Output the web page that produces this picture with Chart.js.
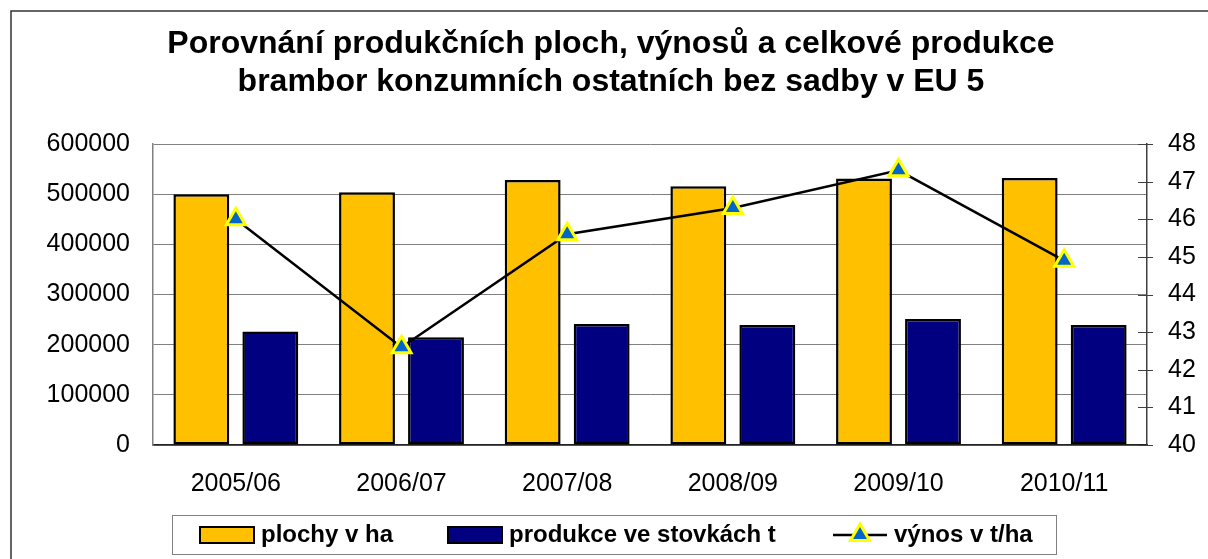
<!DOCTYPE html>
<html lang="cs">
<head>
<meta charset="utf-8">
<title>Porovnání produkčních ploch, výnosů a celkové produkce</title>
<script src="https://cdn.jsdelivr.net/npm/chart.js@4.4.1/dist/chart.umd.min.js"></script>
<style>
    html, body { margin: 0; padding: 0; background: #fff; }
    #graf { display: block; }
</style>
</head>
<body>
<canvas id="graf" width="1208" height="559"></canvas>
<script>
// ==================== DATA ====================
const roky = ['2005/06', '2006/07', '2007/08', '2008/09', '2009/10', '2010/11'];
const plochy = [500000, 504000, 528000, 516000, 531000, 532000];       // plochy v ha
const produkce = [226000, 215000, 241000, 239000, 251000, 239000];     // produkce ve stovkách t
const vynos = [46.0, 42.6, 45.6, 46.3, 47.3, 44.9];                    // výnos v t/ha
const titulek = [
    'Porovnání produkčních ploch, výnosů a celkové produkce',
    'brambor konzumních ostatních bez sadby v EU 5'
];
const legendaTexty = ['plochy v ha', 'produkce ve stovkách t', 'výnos v t/ha'];

const FONT = '"Liberation Sans", Arial, sans-serif';
const ZLUTA = '#FFC000';
const MODRA = '#000080';

// ==================== PLUGINY ====================
// rámeček grafu (vidět je jen levá a horní hrana)
const ramecek = {
    id: 'ramecek',
    beforeDraw(chart) {
        const ctx = chart.ctx;
        ctx.save();
        ctx.fillStyle = '#fff';
        ctx.fillRect(0, 0, chart.width, chart.height);
        ctx.strokeStyle = '#333';
        ctx.lineWidth = 1.5;
        ctx.strokeRect(11, 11, chart.width + 50, chart.height + 50);
        ctx.restore();
    }
};

// značky na pravé ose přes osu (dovnitř i ven)
const znackyOsy = {
    id: 'znackyOsy',
    afterDatasetsDraw(chart) {
        const osa = chart.scales.y2;
        const ctx = chart.ctx;
        ctx.save();
        ctx.strokeStyle = '#404040';
        ctx.lineWidth = 1;
        osa.ticks.forEach(t => {
            const py = Math.round(osa.getPixelForValue(t.value)) + 0.5;
            ctx.beginPath();
            ctx.moveTo(osa.left - 9, py);
            ctx.lineTo(osa.left + 6, py);
            ctx.stroke();
        });
        ctx.restore();
    }
};

// legenda v rámečku pod grafem
const legenda = {
    id: 'legenda',
    afterDraw(chart) {
        const ctx = chart.ctx;
        const ds = chart.data.datasets;
        const cy = 535;
        ctx.save();
        ctx.strokeStyle = '#808080';
        ctx.lineWidth = 1;
        ctx.strokeRect(172.5, 515.5, 884, 39);

        ctx.font = 'bold 24px ' + FONT;
        ctx.textBaseline = 'middle';
        ctx.textAlign = 'left';

        const polozky = [
            { x: 200, ds: ds[0], text: legendaTexty[0] },
            { x: 448, ds: ds[1], text: legendaTexty[1] },
            { x: 833, ds: ds[2], text: legendaTexty[2] }
        ];
        polozky.forEach(p => {
            if (p.ds.type === 'line') {
                ctx.strokeStyle = p.ds.borderColor;
                ctx.lineWidth = 2.5;
                ctx.beginPath();
                ctx.moveTo(p.x, cy);
                ctx.lineTo(p.x + 54, cy);
                ctx.stroke();
                ctx.fillStyle = p.ds.pointBackgroundColor;
                ctx.strokeStyle = p.ds.pointBorderColor;
                ctx.lineWidth = p.ds.pointBorderWidth;
                Chart.helpers.drawPoint(ctx, { pointStyle: 'triangle', radius: p.ds.pointRadius, borderWidth: p.ds.pointBorderWidth }, p.x + 27, cy);
            } else {
                ctx.fillStyle = p.ds.backgroundColor;
                ctx.fillRect(p.x, cy - 8, 54, 16);
                ctx.strokeStyle = '#000';
                ctx.lineWidth = 2;
                ctx.strokeRect(p.x, cy - 8, 54, 16);
            }
            ctx.fillStyle = '#000';
            ctx.fillText(p.text, p.x + 61, cy);
        });
        ctx.restore();
    }
};

// ==================== GRAF ====================
const ctx = document.getElementById('graf').getContext('2d');
const graf = new Chart(ctx, {
    type: 'bar',
    data: {
        labels: roky,
        datasets: [
            {
                label: legendaTexty[0],
                data: plochy,
                backgroundColor: ZLUTA,
                borderColor: '#000',
                borderWidth: 2.5,
                borderSkipped: false,
                categoryPercentage: 0.833,
                barPercentage: 0.81,
                yAxisID: 'y',
                order: 1
            },
            {
                label: legendaTexty[1],
                data: produkce,
                backgroundColor: MODRA,
                borderColor: '#000',
                borderWidth: 2.5,
                borderSkipped: false,
                categoryPercentage: 0.833,
                barPercentage: 0.81,
                yAxisID: 'y',
                order: 1
            },
            {
                type: 'line',
                label: legendaTexty[2],
                data: vynos,
                borderColor: '#000',
                borderWidth: 2.5,
                tension: 0,
                pointStyle: 'triangle',
                pointRadius: 11,
                pointBackgroundColor: '#0066CC',
                pointBorderColor: '#FFFF00',
                pointBorderWidth: 3,
                yAxisID: 'y2',
                order: 0
            }
        ]
    },
    options: {
        responsive: false,
        animation: false,
        devicePixelRatio: 1,
        layout: { padding: { left: 14, right: 0, top: 0, bottom: 0 } },
        plugins: {
            legend: { display: false },
            tooltip: { enabled: false },
            title: {
                display: true,
                text: titulek,
                color: '#000',
                font: { family: FONT, size: 32, weight: 'bold', lineHeight: 1.2 },
                padding: { top: 25, bottom: 42.2 }
            }
        },
        scales: {
            x: {
                grid: { display: false, drawTicks: false },
                border: { display: true, color: '#222', width: 1.5 },
                ticks: { color: '#000', font: { family: FONT, size: 25 }, padding: 24, maxRotation: 0 },
                afterFit: s => { s.height = 114; }
            },
            y: {
                position: 'left',
                min: 0,
                max: 600000,
                grid: { color: '#808080', lineWidth: 1, drawTicks: false },
                border: { display: true, color: '#808080', width: 1.5 },
                ticks: {
                    stepSize: 100000,
                    color: '#000',
                    font: { family: FONT, size: 25 },
                    padding: 23,
                    callback: v => String(v)
                },
                afterFit: s => { s.width = 139; }
            },
            y2: {
                position: 'right',
                min: 40,
                max: 48,
                grid: { drawOnChartArea: false, drawTicks: false },
                border: { display: true, color: '#404040', width: 1.5 },
                ticks: {
                    stepSize: 1,
                    color: '#000',
                    font: { family: FONT, size: 25 },
                    padding: 21,
                    callback: v => String(v)
                },
                afterFit: s => { s.width = 61; }
            }
        }
    },
    plugins: [ramecek, znackyOsy, legenda]
});
</script>
</body>
</html>
